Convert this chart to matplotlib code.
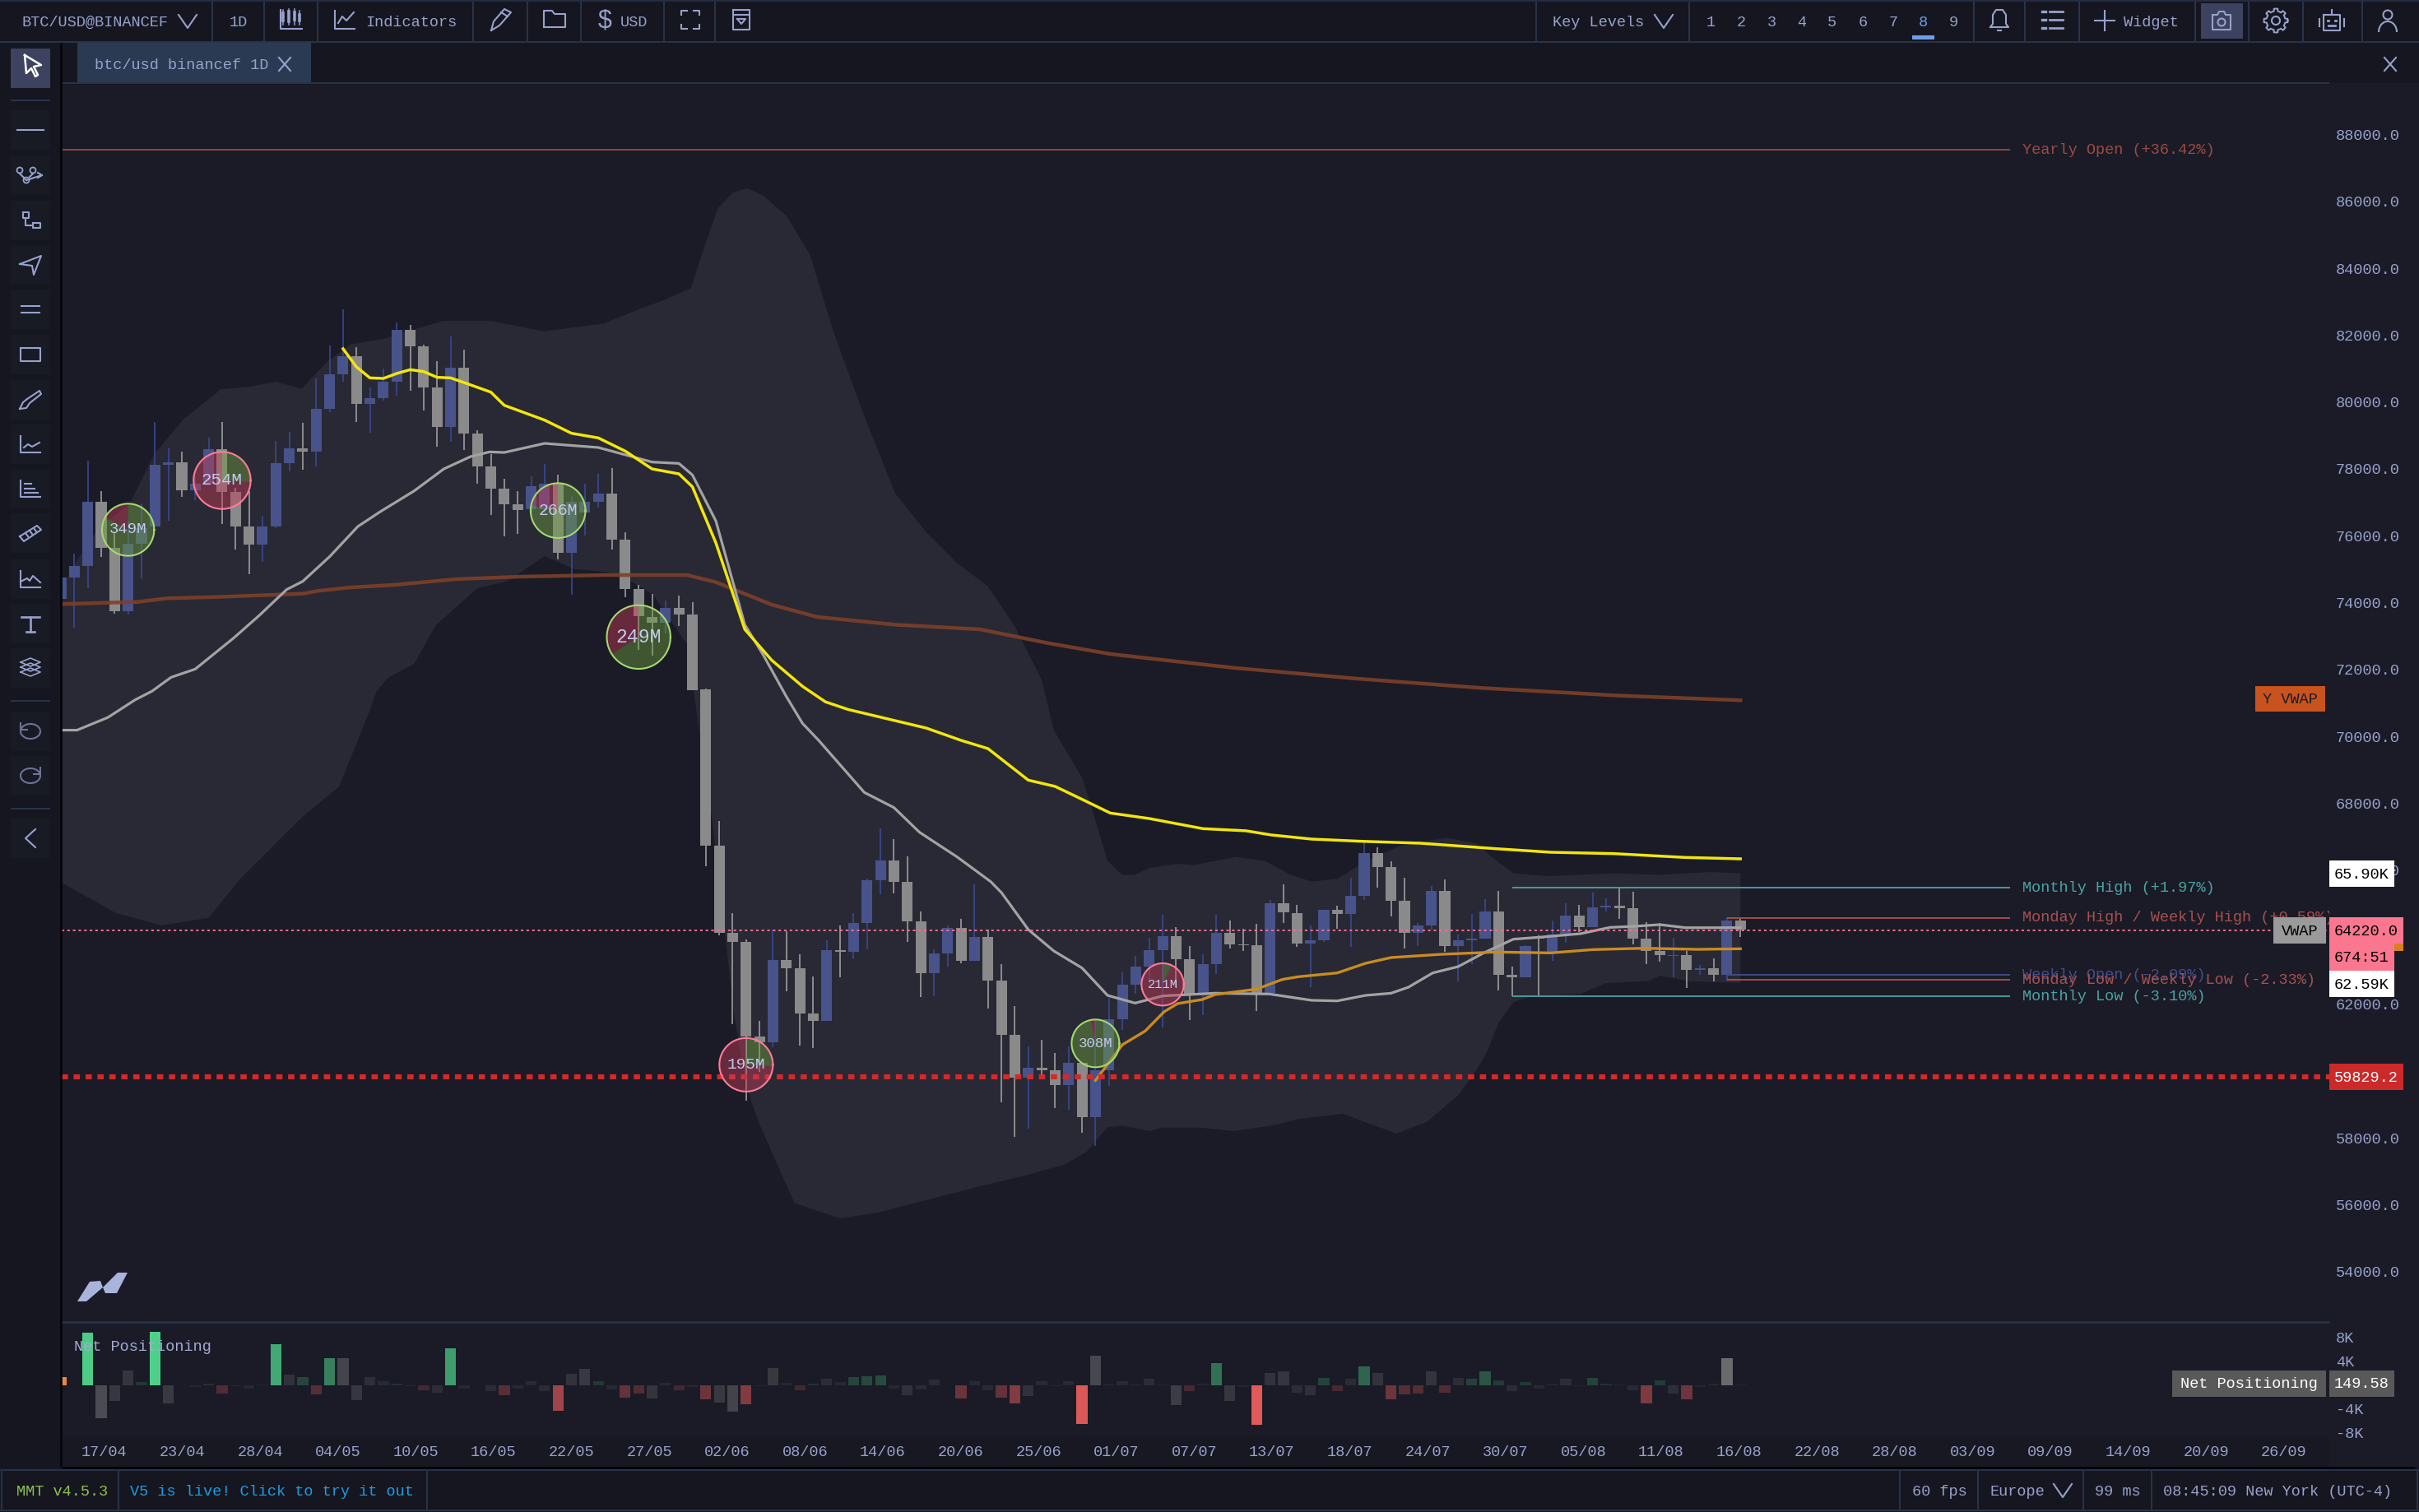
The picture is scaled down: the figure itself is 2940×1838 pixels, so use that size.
#!/usr/bin/env python3
"""
BTC/USD daily chart screen: candles, moving averages, band, key levels
and the net positioning panel underneath.
"""

import numpy as np
import matplotlib
matplotlib.use("Agg")
import matplotlib.pyplot as plt
from matplotlib.colors import to_rgba
from matplotlib.patches import Rectangle, Circle, Arc

plt.rcParams["font.family"] = ["Liberation Mono", "DejaVu Sans Mono"]

# --- Data: candles (one per day) ---
opens = [74120, 74770, 75100, 77030, 75650, 73764, 75780, 76290, 78135, 78200, 77380, 77577, 78602, 77315, 76290, 75741,
         76290, 78176, 78635, 78520, 79816, 80841, 81374, 79955, 80136, 80620, 82161, 81677, 80447, 79275, 81030, 79062,
         78094, 77422, 76946, 76798, 76798, 77577, 75511, 76716, 77028, 77274, 75896, 74420, 73584, 73420, 73846, 73650,
         71420, 66737, 64129, 63867, 61038, 60874, 63318, 63072, 61719, 61514, 63613, 63572, 64433, 65712, 66302, 65663,
         64490, 62940, 63523, 64277, 63309, 64015, 62719, 61079, 59808, 60095, 60029, 59578, 60251, 58635, 60029, 61563,
         62596, 63129, 63629, 64039, 63359, 62268, 63211, 64138, 63801, 63769, 62350, 65031, 64728, 63826, 63924, 64826,
         64712, 65245, 66532, 66097, 65089, 64138, 64359, 65384, 63744, 63924, 63974, 64769, 62883, 62809, 64006, 63580,
         64088, 64646, 64318, 64908, 64941, 64876, 63965, 63596, 63440, 63465, 63039, 63072, 62891, 64507]
highs = [75430, 75470, 78260, 77356, 76085, 76454, 76987, 79406, 78627, 78520, 77766, 78955, 79422, 77438, 77356, 76602,
         78848, 79111, 79390, 80718, 81702, 82784, 81645, 80447, 81005, 82399, 82317, 81718, 81226, 81964, 81587, 79160,
         78463, 77725, 77356, 77799, 78151, 77832, 77192, 77561, 77864, 78045, 76126, 74552, 74265, 74076, 74224, 74035,
         71450, 67475, 64728, 63949, 61514, 64236, 64179, 63498, 62842, 63908, 64359, 64728, 65769, 67254, 66942, 66417,
         64777, 63646, 64359, 64564, 65581, 64236, 63211, 61940, 60735, 60931, 60546, 60751, 60251, 61530, 62186, 62957,
         63457, 63990, 64687, 64302, 63744, 63498, 64679, 64498, 64269, 64416, 65122, 65589, 64974, 64359, 64826, 64949,
         65778, 66844, 66696, 66286, 65778, 64441, 65548, 65728, 64088, 64712, 65154, 65384, 63121, 63769, 64056, 64498,
         65015, 64974, 65343, 65163, 65466, 65368, 64466, 64441, 63990, 63596, 63170, 63375, 64605, 64548]
lows = [73750, 73260, 74450, 75372, 73682, 73650, 74748, 76290, 76470, 77176, 77069, 77560, 76372, 75609, 74855, 75240,
        76249, 77946, 77996, 78094, 79718, 80611, 79422, 79103, 80046, 80193, 80349, 79767, 78684, 78832, 78586, 77577,
        76634, 76000, 76077, 76700, 76700, 75306, 74240, 76028, 76848, 75609, 74183, 72600, 72420, 73092, 73322, 71395,
        66138, 64056, 61407, 59111, 59972, 60710, 62383, 60767, 60694, 61514, 62801, 63350, 63646, 65302, 65318, 63875,
        62227, 62243, 63129, 63227, 63309, 61874, 59070, 58045, 58291, 59824, 58906, 58849, 58168, 57774, 59562, 61243,
        62309, 62678, 61300, 62514, 61530, 61678, 62900, 63662, 63596, 61809, 62309, 64441, 63719, 62514, 63867, 64252,
        63728, 65113, 65491, 64630, 63662, 63744, 64236, 63564, 62678, 63211, 63974, 62416, 62235, 62809, 62268, 63293,
        63842, 64154, 64302, 64785, 64564, 63785, 63211, 63285, 62801, 62489, 62883, 62678, 62719, 64006]
closes = [74770, 75100, 77030, 75650, 73764, 75782, 76249, 78135, 78201, 77381, 77577, 78602, 77315, 76290, 75741, 76290,
          78176, 78635, 78520, 79800, 80841, 81374, 79955, 80136, 80611, 82161, 81677, 80447, 79275, 81030, 79062, 78094,
          77422, 76962, 76782, 77495, 77577, 75511, 77028, 77028, 77274, 75896, 74420, 73600, 73420, 73846, 73650, 71395,
          66753, 64129, 63867, 61038, 60874, 63318, 63088, 61719, 61514, 63613, 63572, 64433, 65712, 66302, 65663, 64490,
          62940, 63523, 64277, 63309, 64015, 62719, 61079, 59808, 60095, 60029, 59578, 60251, 58635, 60029, 61546, 62580,
          63129, 63629, 64039, 63359, 62268, 63211, 64138, 63801, 63769, 62350, 65023, 64744, 63826, 63924, 64826, 64712,
          65245, 66532, 66097, 65089, 64138, 64359, 65384, 63744, 63916, 63974, 64769, 62883, 62809, 63744, 63974, 64088,
          64646, 64318, 64892, 64941, 64884, 63965, 63596, 63473, 63465, 63039, 63072, 62891, 64515, 64236]

# --- Data: band around price (index, price) ---
band_upper_x = [0, 0.7, 2.9, 5.1, 6.9, 9.1, 11.9, 14.1, 16, 17.9, 19.8, 21.6, 24.1, 25.7, 28.5, 31.9, 36, 40.4, 42.9, 45.1,
                46.9, 47.7, 48.9, 50, 51.05, 52.3, 54, 55.75, 57.5, 59.8, 62.1, 64.4, 66.7, 69, 71, 73, 73.9, 76.04, 76.8,
                77.9, 79, 79.95, 81.04, 83.1, 84.3, 87.45, 89.6, 91.5, 93.1, 95, 96.8, 99.6, 103.1, 105.3, 106.5, 108.1,
                110.6, 115.6, 119, 122.8, 125]
band_upper = [74200, 74978, 76290, 76946, 78422, 79488, 80390, 80472, 80620, 80406, 81210, 81743, 81907, 82112, 82440, 82440,
              82128, 82358, 82768, 83096, 83424, 84423, 85807, 86268, 86407, 86176, 85577, 84423, 82117, 79580, 77274, 76121,
              75198, 74500, 73300, 71700, 70200, 68746, 67762, 66286, 65876, 65876, 66081, 66204, 66163, 66409, 66286, 65878,
              65671, 65753, 66204, 66737, 66983, 66819, 66409, 65917, 65835, 65917, 65876, 65958, 65917]
band_lower_x = [0, 4.1, 7.5, 11, 13.3, 17.9, 20.7, 23, 23.5, 24.4, 26.3, 27.9, 31, 33.2, 36, 38.2, 40.4, 41.6, 44.1,
                46.6, 48.2, 48.5, 49.2, 50.1, 50.9, 51.4, 52, 52.9, 54.6, 58, 60.9, 64.4, 68.9, 71.8, 74.7, 76.35, 77.9,
                79, 81.04, 82, 84.8, 87.3, 90.1, 92.2, 95.4, 99.4, 101.7, 104, 105.4, 106.2, 107, 108.1, 109.3, 113.1,
                115, 118.1, 119, 121.2, 125]
band_lower = [65650, 64730, 64360, 64590, 65730, 67580, 68510, 70800, 71370, 71780, 72190, 73338, 74445, 74650, 75404,
              75019, 74937, 74855, 74240, 72764, 68254, 67434, 64974, 61694, 59808, 59070, 58414, 57594, 56056, 55596, 55780,
              56149, 56609, 56886, 57210, 57594, 58332, 58373, 58209, 58316, 58316, 58209, 58373, 58578, 58731, 58131, 58500,
              59285, 60054, 60628, 61448, 62063, 62227, 62309, 62637, 62694, 62858, 62694, 62637]

# --- Data: lines drawn on the price pane (index, price) ---
yellow_x = [21, 22, 23, 24, 25, 26, 27, 28, 29, 30, 32, 33, 36, 38, 40, 42, 44, 46, 47, 48.75, 50.9, 52.9, 55.2, 56.9, 58.6,
            61.5, 64.4, 67, 69, 72, 74, 76, 78.1, 81, 85, 88.2, 90.1, 93.1, 96.8, 101.2, 106.8, 110.9, 115.6, 120.9, 125]
yellow = [81604, 81062, 80734, 80718, 80866, 80980, 80923, 80751, 80734, 80595, 80308, 79914, 79472, 79078, 78939, 78545,
          78012, 77864, 77479, 75798, 73215, 72293, 71509, 71047, 70817, 70540, 70263, 69894, 69648, 68705, 68517, 68131,
          67721, 67557, 67254, 67190, 67065, 66942, 66876, 66819, 66655, 66548, 66507, 66393, 66352]
gray_x = [0, 1.2, 3.5, 5.5, 6.8, 8.2, 10, 12.9, 14.75, 16.8, 18, 20, 22.1, 23.8, 26.3, 28.5, 30.5, 31.9, 33, 36, 40, 44, 46,
          47, 48.75, 50.9, 52.3, 54, 55.2, 56.4, 59.8, 62, 63.9, 66.7, 69.2, 70, 72, 73.9, 76, 77.9, 79.95, 82, 85.9, 89.95,
          93.1, 95, 97.1, 99, 100.3, 102.1, 104, 105.9, 108.1, 110, 113.1, 115.3, 117.1, 119, 120.9, 125]
gray = [70200, 70200, 70580, 71100, 71370, 71780, 72026, 72969, 73625, 74404, 74650, 75388, 76290, 76741, 77356, 78012, 78381,
        78520, 78504, 78775, 78652, 78217, 78176, 77832, 76454, 73353, 72431, 71200, 70400, 69894, 68336, 67885, 67147, 66409,
        65671, 65343, 64236, 63596, 63088, 62268, 62038, 62252, 62334, 62309, 62120, 62104, 62268, 62333, 62514, 62940, 63129,
        63539, 63949, 64006, 64113, 64302, 64334, 64384, 64293, 64293]
orange_x = [77, 79, 80.7, 82.1, 83.1, 84.95, 85.9, 89, 90.9, 92.1, 95, 97.1, 99, 102.8, 106.8, 110.9, 114, 117.8, 121.8, 125]
orange = [59726, 60792, 61202, 61776, 62022, 62145, 62293, 62456, 62744, 62826, 62940, 63227, 63400, 63498, 63564, 63539,
          63637, 63678, 63645, 63662]
brown_x = [0, 5.7, 7.9, 11.6, 18, 19.1, 21.6, 24.8, 29.4, 34.1, 40.4, 46.6, 48.75, 52.9, 56.3, 62.1, 68.4, 73.5, 78.1, 87.3,
           96.5, 105.7, 116, 125]
brown = [73969, 74035, 74142, 74183, 74281, 74363, 74470, 74543, 74716, 74789, 74838, 74838, 74625, 73953, 73584, 73353, 73215,
         72800, 72477, 72062, 71739, 71462, 71232, 71093]

# --- Data: key levels ---
yearly_open = 87557
monthly_high = 65483
monday_high = 64589
last_price = 64220
weekly_open = 62883
monday_low = 62727
monthly_low = 62235
red_level = 59829.2
session_high = 65909
session_low = 62613

# --- Data: volume bubbles ---
bubble_x = [5, 12, 37, 43, 51, 77, 82]
bubble_price = [76192, 77668, 76766, 72985, 60193, 60833, 62596]
bubble_labels = ["349M", "254M", "266M", "249M", "195M", "308M", "211M"]
bubble_green_share = [0.83, 0.26, 0.78, 0.66, 0.26, 0.97, 0.07]

# --- Data: net positioning panel ---
net_pos = [1380, 0, 8832, -5566, -2622, 2438, 552, 9016, -2990, -60, -276, 322, -1334, -184, -552, 92, 6900, 1794, 1334, -1518,
           4554, 4554, -2484, 1380, 644, 230, -138, -828, -1242, 6164, -506, 0, -966, -1610, -552, 736, -920, -4232, 1932, 2806,
           690, -736, -2024, -1334, -2254, 414, -828, -276, -2346, -2852, -4416, -3128, -138, 2852, 414, -782, 230, 1104, 552,
           1334, 1564, 1656, -506, -1656, -690, 966, 40, -2208, 690, -828, -2024, -3082, -1794, 736, -138, 690, -6486, 5014, 138,
           690, 184, 1104, 138, -3312, -966, 230, 3772, -2576, -276, -6624, 2024, 2346, -1242, -1610, 1242, -966, 1104, 3128,
           2070, -2346, -1518, -1426, 2300, -1242, 1196, 1104, 2300, 782, -1012, 598, -552, 230, 1104, -138, 1196, 230, 92, -782,
           -2990, 828, -1426, -2392, -322, 230, 4554, 92]
# o = orange, g = long, r = short, n = neutral, b = bright neutral (ten per chunk)
net_kind = ("ongnnnggnn" "ngrrnngngr" "gnnnngrrng" "nnnrnnnrnn" "gnrrnnrrrn" "nrnnnrgnng" "ggnnnnnrnn"
            "rrnnrnrngn" "gnnnrngnnr" "nnnngrngnr" "rrnrngggng" "nnnnggnnrg" "nrnnbn")

# --- Data: axis labels ---
date_labels = ["17/04", "23/04", "28/04", "04/05", "10/05", "16/05", "22/05", "27/05", "02/06", "08/06", "14/06", "20/06",
               "25/06", "01/07", "07/07", "13/07", "18/07", "24/07", "30/07", "05/08", "11/08", "16/08", "22/08", "28/08",
               "03/09", "09/09", "14/09", "20/09", "26/09"]
# 60000 and 64000 sit fully behind the price boxes
price_ticks = [54000, 56000, 58000, 62000, 66000, 68000, 70000, 72000, 74000, 76000, 78000, 80000, 82000, 84000, 86000, 88000]
net_ticks = [8000, 4000, -4000, -8000]
net_tick_labels = ["8K", "4K", "-4K", "-8K"]

# --- Layout (pixels of the 2940x1838 picture) ---
W, H = 2940, 1838
PANE_L, PANE_R = 75, 2831
PRICE_T, PRICE_B = 103, 1605
NET_T, NET_B = 1608, 1743
X0_PX, DAY_PX = 74.0, 16.33          # where candle 0 sits, pixels per candle
PRICE_PX = 81.3 / 2000               # pixels per price unit
NET_PX = 29.0 / 4000
BUBBLE_R = [31.7, 34.7, 33.3, 38.7, 32.5, 29.0, 25.7]

BG = "#1a1b26"
BAND = "#282934"
CHROME = "#15161f"
STRIP = "#171821"
RULE = "#28344a"
TEXT = "#98a1cc"
MONO = 13.4

UP_BODY, UP_WICK = "#47538a", "#3a4a96"
DN_BODY, DN_WICK = "#8a8a8a", "#a3a3a3"

fig = plt.figure(figsize=(W / 100, H / 100), dpi=100, facecolor=CHROME)


def pane(top, bottom):
    return fig.add_axes([PANE_L / W, 1 - bottom / H, (PANE_R - PANE_L) / W, (bottom - top) / H])


def y_px(price):
    return 164 + (88000 - price) * PRICE_PX


# --- Screen chrome underneath ---
back = fig.add_axes([0, 0, 1, 1], zorder=0)
back.set_xlim(0, W)
back.set_ylim(H, 0)
back.axis("off")
back.add_patch(Rectangle((PANE_L, 1743), PANE_R - PANE_L, 40, color=STRIP))
back.add_patch(Rectangle((PANE_R, 101), W - PANE_R, 1682, color=BG))
back.add_patch(Rectangle((PANE_L, 1605), PANE_R - PANE_L, 140, color=BG))

# --- Price pane ---
ax = pane(PRICE_T, PRICE_B)
ax.set_zorder(1)
ax.set_facecolor(BG)
ax.set_xlim((PANE_L - X0_PX) / DAY_PX, (PANE_R - X0_PX) / DAY_PX)
ax.set_ylim(88000 - (PRICE_B - 164) / PRICE_PX, 88000 + (164 - PRICE_T) / PRICE_PX)
ax.set_xticks([])
ax.set_yticks([])
for s in ax.spines.values():
    s.set_visible(False)

ax.fill(band_upper_x + band_lower_x[::-1], band_upper + band_lower[::-1], color=BAND, lw=0, zorder=1)

idx = np.arange(len(opens))
up = np.array(closes) >= np.array(opens)
ax.vlines(idx, lows, highs, colors=[UP_WICK if u else DN_WICK for u in up], lw=1.15, zorder=3)
ax.bar(idx, np.abs(np.array(closes) - np.array(opens)), bottom=np.minimum(opens, closes), width=0.8,
       color=[UP_BODY if u else DN_BODY for u in up], zorder=4, linewidth=0)

ax.plot(brown_x, brown, color="#7d4029", lw=3.2, alpha=0.9, zorder=5)
ax.plot(gray_x, gray, color="#a3a3a3", lw=2.3, zorder=6)
ax.plot(orange_x, orange, color="#c98c20", lw=2.4, zorder=6)
ax.plot(yellow_x, yellow, color="#f3e60c", lw=2.5, zorder=7)

# key levels and their labels
LEVEL_END, LEVEL_TXT = (2443 - X0_PX) / DAY_PX, (2458 - X0_PX) / DAY_PX
levels = [
    (yearly_open, 0, "#9c4a42", "Yearly Open (+36.42%)"),
    (monthly_high, 108, "#4aa3a6", "Monthly High (+1.97%)"),
    (monday_high, 124, "#a95050", "Monday High / Weekly High (+0.59%)"),
    (weekly_open, 124, "#434d8c", "Weekly Open (-2.09%)"),
    (monday_low, 124, "#a95050", "Monday Low / Weekly Low (-2.33%)"),
    (monthly_low, 108, "#4aa3a6", "Monthly Low (-3.10%)"),
]
for price, start, col, label in levels:
    ax.hlines(price, start, LEVEL_END, color=col, lw=1.3, zorder=8)
    ax.text(LEVEL_TXT, price, label, color=col, fontsize=MONO, va="center", ha="left", zorder=8, clip_on=True)

ax.axhline(last_price, color="#f0708f", lw=1.4, dashes=(1.6, 1.9), zorder=8)
ax.axhline(red_level, color="#d22a2a", lw=4.4, dashes=(1.25, 1.12), zorder=8)

# volume bubbles: green / red pie plus ring, kept round in pixels
for bx, bp, r, lab, share in zip(bubble_x, bubble_price, BUBBLE_R, bubble_labels, bubble_green_share):
    ring = "#a4d970" if share > 0.5 else "#ff7c98"
    # red runs counter-clockwise from 12 o'clock, green fills the rest
    red_to = 90 + (1 - share) * 360
    t_all = np.radians(np.linspace(0, 360, 73))
    t_red = np.radians(np.linspace(90, red_to, 60))
    t_green = np.radians(np.linspace(red_to, 450, 60))
    sx, sy = r / DAY_PX, r / PRICE_PX
    ax.fill(np.r_[bx, bx + sx * np.cos(t_red)], np.r_[bp, bp + sy * np.sin(t_red)], color="#c83c5a", alpha=0.45, lw=0, zorder=9)
    ax.fill(np.r_[bx, bx + sx * np.cos(t_green)], np.r_[bp, bp + sy * np.sin(t_green)], color="#6fa040", alpha=0.45, lw=0, zorder=9)
    ax.plot(bx + sx * np.cos(t_all), bp + sy * np.sin(t_all), color=ring, lw=1.5, zorder=10)
    ax.text(bx, bp, lab, color="#c4cbee", fontsize=r * 0.43, ha="center", va="center", zorder=11)

# --- Net positioning pane ---
ax2 = pane(NET_T, NET_B)
ax2.set_zorder(1)
ax2.set_facecolor(BG)
ax2.set_xlim(ax.get_xlim())
ax2.set_ylim(-(NET_B - 1684) / NET_PX, (1684 - NET_T) / NET_PX)
ax2.set_xticks([])
ax2.set_yticks([])
for s in ax2.spines.values():
    s.set_visible(False)

kind_color = {"g": ("#4fd08a", 9000), "r": ("#e05a5a", 6600), "n": ("#7a7a7e", 12000), "b": ("#6a6a6a", 4554), "o": ("#e8864a", 1380)}
bar_colors = []
for v, k in zip(net_pos, net_kind):
    base, top = kind_color[k]
    bar_colors.append(to_rgba(base, min(1.0, 0.1 + 0.9 * abs(v) / top)))
assert len(net_pos) == len(net_kind) == len(opens)
ax2.bar(np.arange(len(net_pos)), net_pos, width=0.81, color=bar_colors, linewidth=0)

# --- Screen chrome on top ---
ui = fig.add_axes([0, 0, 1, 1], zorder=5)
ui.set_xlim(0, W)
ui.set_ylim(H, 0)
ui.axis("off")


def txt(x, y, s, col=TEXT, ha="left", size=MONO, z=5):
    ui.text(x, y + 1.5, s, color=col, fontsize=size, ha=ha, va="center", zorder=z)


def rule(x0, y0, x1, y1, col=RULE, lw=1.4):
    ui.plot([x0, x1], [y0, y1], color=col, lw=lw, solid_capstyle="butt")


def icon(cx, cy, *paths, col=TEXT, lw=1.5):
    for p in paths:
        xs, ys = zip(*p)
        ui.plot(np.array(xs) + cx, np.array(ys) + cy, color=col, lw=lw, solid_joinstyle="round")


def box(x0, y0, x1, y1, face):
    ui.add_patch(Rectangle((x0, y0), x1 - x0, y1 - y0, color=face, lw=0, zorder=2))


# frame lines
rule(0, 1, W, 1, col="#232d3f", lw=1.5)
rule(0, 50.5, W, 50.5)
rule(75, 101, PANE_R, 101)
rule(PANE_L, 1607, PANE_R, 1607, lw=1.8)
rule(0, 1787, W, 1787)
rule(0, 1836, W, 1836)
rule(74, 52, 74, 1783, col="#05060a", lw=2.0)
rule(75, 1784, W - 5, 1784, col="#05060a", lw=2.0)
for x in [258, 321, 386, 575, 641, 706, 807, 869, 1867, 2053, 2399, 2461, 2527, 2668, 2733, 2799, 2871]:
    rule(x, 2, x, 50)
for x in [2, 144, 519, 2309, 2404, 2532, 2615, 2938]:
    rule(x, 1787, x, 1836)

# top bar
txt(27, 26, "BTC/USD@BINANCEF")
icon(228, 26, [(-11, -8), (0, 8), (11, -8)])
txt(290, 26, "1D", ha="center")
for dx, y0, y1, t0, t1 in [(-10, -12, 6, -8, 1), (-3, -13, 6, -10, 2), (4, -13, 6, -9, 0), (10, -11, 6, -6, 1)]:
    icon(354, 24, [(dx, y0), (dx, y1)], lw=1.1)
    icon(354, 24, [(dx, t0), (dx, t1)], lw=2.6)
icon(354, 24, [(-13, -12), (-13, 11), (13, 11)])
icon(419, 24, [(-12, -11), (-12, 11), (12, 11)], [(-8, 4), (-3, -4), (2, 1), (11, -9)])
txt(444, 26, "Indicators")
icon(609, 24, [(-12, 13), (-9, 2), (4, -13), (12, -9), (-2, 7), (-12, 13)], [(0, -9), (8, -4)])
icon(674, 24, [(-13, 9), (-13, -11), (-3, -11), (0, -7), (13, -7), (13, 9), (-13, 9)])
ui.text(735, 25, "$", color=TEXT, fontsize=22, ha="center", va="center", family="Liberation Sans")
txt(754, 26, "USD")
icon(839, 24, [(-11, -6), (-11, -11), (-4, -11)], [(4, -11), (11, -11), (11, -6)], [(-11, 6), (-11, 11), (-4, 11)],
     [(4, 11), (11, 11), (11, 6)])
icon(901, 24, [(-10, -12), (10, -12), (10, 12), (-10, 12), (-10, -12)], [(-5, -1), (5, -1), (0, 5), (-5, -1)], [(-10, -6), (10, -6)])
txt(1887, 26, "Key Levels")
icon(2022, 26, [(-11, -8), (0, 8), (11, -8)])
for i, x in enumerate([2079, 2116, 2153, 2190, 2226, 2264, 2301, 2337, 2374]):
    txt(x, 26, str(i + 1), ha="center", col="#6d9eeb" if i == 7 else TEXT)
box(2324, 43, 2351, 48, "#6d9eeb")
icon(2430, 24, [(-11, 9), (-8, 5), (-8, -6), (-4, -12), (4, -12), (8, -6), (8, 5), (11, 9), (-11, 9)], [(-2, 13), (2, 13)])
for dy in (-10, 0, 10):
    icon(2494, 24, [(-12, dy), (-8, dy)], lw=2.4)
    icon(2494, 24, [(-3, dy), (13, dy)], lw=2.0)
icon(2558, 25, [(-12, 0), (12, 0)], [(0, -12), (0, 12)])
txt(2581, 26, "Widget")
box(2675, 4, 2726, 47, "#3c4260")
icon(2700, 25, [(-11, -7), (-5, -7), (-3, -11), (3, -11), (5, -7), (11, -7), (11, 11), (-11, 11), (-11, -7)])
ui.add_patch(Circle((2700, 27), 4.5, fill=False, ec=TEXT, lw=1.5, zorder=3))
ui.add_patch(Circle((2766, 25), 5, fill=False, ec=TEXT, lw=1.5))
ang = np.radians(np.arange(0, 361, 3))
gear_r = 11.5 + 3 * (np.cos(8 * ang) > 0)
ui.plot(2766 + gear_r * np.cos(ang), 25 + gear_r * np.sin(ang), color=TEXT, lw=1.4)
icon(2834, 26, [(-10, -8), (10, -8), (10, 11), (-10, 11), (-10, -8)], [(0, -8), (0, -14)], [(-15, -3), (-15, 6)], [(15, -3), (15, 6)])
icon(2834, 26, [(-5, -1), (-4, -1)], [(4, -1), (5, -1)], [(-4, 5), (4, 5)], lw=2.0)
ui.add_patch(Circle((2902, 18), 5.5, fill=False, ec=TEXT, lw=1.5))
ui.add_patch(Arc((2902, 39), 22, 26, theta1=180, theta2=360, ec=TEXT, lw=1.5))

# tab row
box(94, 52, 378, 100, "#2a3a52")
txt(115, 78, "btc/usd binancef 1D")
icon(346, 78, [(-7, -8), (7, 8)], [(-7, 8), (7, -8)])
icon(2905, 78, [(-7, -8), (7, 8)], [(-7, 8), (7, -8)])

# left tool column
box(13, 59, 61, 107, "#3c4260")
tool_y = [158, 213, 268, 322, 376, 431, 486, 540, 594, 648, 704, 758, 812, 889, 943, 1019]
for y in tool_y:
    box(13, y - 24, 61, y + 24, "#181a24")
rule(13, 122, 61, 122)
rule(13, 852, 61, 852)
rule(13, 983, 61, 983)
icon(37, 80, [(-7, -13), (13, -1), (4, 1), (9, 11), (6, 13), (1, 3), (-5, 9), (-7, -13)], col="#ffffff", lw=1.8)
icon(37, 158, [(-16, 0), (16, 0)])
ui.add_patch(Circle((24, 207), 3.5, fill=False, ec=TEXT, lw=1.3, zorder=3))
ui.add_patch(Circle((40, 207), 3.5, fill=False, ec=TEXT, lw=1.3, zorder=3))
ui.add_patch(Circle((32, 219), 3.5, fill=False, ec=TEXT, lw=1.3, zorder=3))
icon(37, 213, [(-5, 6), (14, 0), (9, -3)], [(14, 0), (9, 3)], [(-13, -2), (-5, 6)], [(3, -2), (-1, 2)])
icon(37, 268, [(-9, -10), (-2, -10), (-2, -3), (-9, -3), (-9, -10)], [(3, 3), (12, 3), (12, 9), (3, 9), (3, 3)], [(-6, -3), (-6, 6), (3, 6)])
icon(37, 322, [(-13, -1), (13, -11), (4, 12), (2, 1), (-13, -1)])
icon(37, 376, [(-11, -4), (11, -4)], [(-11, 4), (11, 4)])
icon(37, 431, [(-12, -8), (12, -8), (12, 8), (-12, 8), (-12, -8)])
icon(37, 486, [(-13, 11), (-5, 10), (-1, 4), (13, -7), (11, -11), (-4, -1), (-9, 3), (-13, 11)])
icon(37, 540, [(-12, -10), (-12, 10), (12, 10)], [(-8, 4), (-3, 0), (2, 3), (11, -2)])
icon(37, 594, [(-12, -10), (-12, 10), (12, 10)], [(-7, -6), (1, -6)], [(-7, 0), (5, 0)], [(-7, 5), (9, 5)])
icon(37, 648, [(-13, 4), (8, -9), (13, -4), (-8, 10), (-13, 4)], [(-6, 0), (-3, 4)], [(-1, -3), (2, 1)], [(4, -6), (7, -2)])
icon(37, 704, [(-12, -10), (-12, 10), (12, 10)], [(-12, 3), (-4, -1), (-1, 2), (3, -4), (12, 4)])
icon(37, 758, [(-11, -8), (11, -8)], [(0, -8), (0, 10)], [(-5, 10), (5, 10)], lw=1.9)
for d in (-7, -1, 5):
    icon(37, 812, [(-12, d), (0, d - 5), (12, d), (0, d + 5), (-12, d)], lw=1.2)
ui.add_patch(Arc((37, 889), 24, 18, theta1=-170, theta2=190, ec="#6c7396", lw=1.5, zorder=3))
icon(37, 889, [(-12, -10), (-12, -2), (-4, -2)], col="#6c7396")
ui.add_patch(Arc((37, 943), 24, 18, theta1=-10, theta2=350, ec="#6c7396", lw=1.5, zorder=3))
icon(37, 943, [(12, -10), (12, -2), (4, -2)], col="#6c7396")
icon(37, 1019, [(6, -11), (-6, 0), (6, 11)])

# price axis: tick text stays under the boxes
for p in price_ticks:
    txt(2839, y_px(p), f"{p}.0", z=1)
for p, lab in zip(net_ticks, net_tick_labels):
    txt(2839, 1684 - p * NET_PX, lab, z=1)

# boxes on the axis
for p, s in [(session_high, "65.90K"), (session_low, "62.59K")]:
    y = y_px(p)
    box(2831, y - 16, 2910, y + 16, "#ffffff")
    txt(2870, y, s, col="#000000", ha="center")
box(2910, y_px(last_price) + 16, 2921, y_px(last_price) + 25, "#d9801e")
box(2831, y_px(last_price) - 16, 2921, y_px(last_price) + 16, "#fb7790")
box(2831, y_px(last_price) + 16, 2910, y_px(last_price) + 49, "#fb7790")
txt(2876, y_px(last_price), "64220.0", col="#000000", ha="center")
txt(2870, y_px(last_price) + 32, "674:51", col="#000000", ha="center")
box(2831, y_px(red_level) - 16, 2921, y_px(red_level) + 16, "#cc2a2a")
txt(2876, y_px(red_level), "59829.2", col="#ffffff", ha="center")
box(2763, y_px(last_price) - 16, 2827, y_px(last_price) + 16, "#9a9a9a")
txt(2795, y_px(last_price), "VWAP", col="#000000", ha="center")
box(2741, 834, 2826, 865, "#c9531f")
txt(2783, 849, "Y VWAP", col="#1a1b26", ha="center")
box(2640, 1666, 2827, 1698, "#595959")
txt(2733, 1681, "Net Positioning", col="#ffffff", ha="center")
box(2831, 1666, 2910, 1698, "#595959")
txt(2870, 1681, "149.58", col="#ffffff", ha="center")

# logo and panel title
ui.fill([94, 109, 122, 125, 105], [1582, 1558, 1557, 1565, 1582], color="#a9b4dc", lw=0)
ui.fill([125, 143, 155, 142, 128], [1565, 1547, 1547, 1572, 1572], color="#a9b4dc", lw=0)
txt(90, 1636, "Net Positioning", col="#a3abd3")

# date labels, evenly spread along the time axis
for i, lab in enumerate(date_labels):
    txt(127 + i * 94.6, 1764, lab, ha="center")

# status bar
txt(20, 1812, "MMT v4.5.3", col="#8fc24f")
txt(158, 1812, "V5 is live! Click to try it out", col="#1f9be0")
txt(2324, 1812, "60 fps")
txt(2419, 1812, "Europe")
icon(2507, 1812, [(-11, -8), (0, 8), (11, -8)])
txt(2546, 1812, "99 ms")
txt(2629, 1812, "08:45:09 New York (UTC-4)")

plt.savefig("out.png", dpi=100, facecolor=CHROME)
